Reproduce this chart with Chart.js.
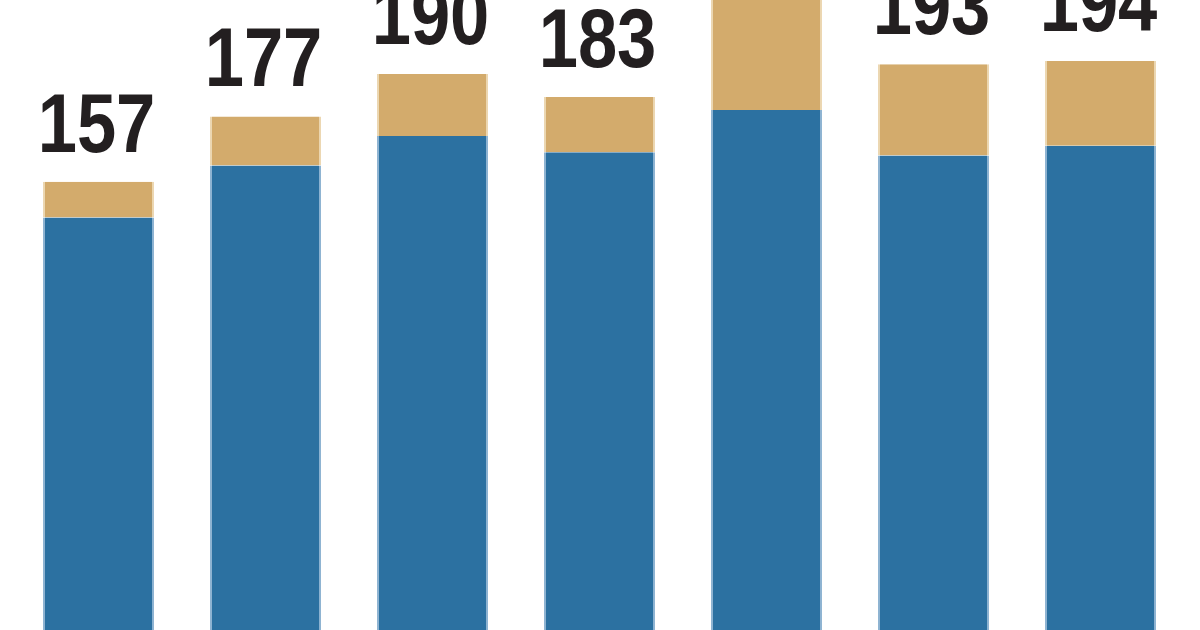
<!DOCTYPE html>
<html>
<head>
<meta charset="utf-8">
<script src="https://cdn.jsdelivr.net/npm/chart.js@4/dist/chart.umd.min.js"></script>
<style>
  html, body { margin: 0; padding: 0; background: #ffffff; }
  #wrap { width: 1200px; height: 630px; position: relative; }
</style>
</head>
<body>
<div id="wrap"><canvas id="c" width="1200" height="630"></canvas></div>
<script>
// Data read from the (cropped) reference picture
const categories = ["1", "2", "3", "4", "5", "6", "7"];
const lowerValues = [146, 162, 171, 166, 179, 165, 168];   // blue segment
const upperValues = [11, 15, 19, 17, 46, 28, 26];          // tan segment
const totalLabels = ["157", "177", "190", "183", "225", "193", "194"];

const BLUE = "#2c71a1";
const TAN = "#d3ab6c";

const totalLabelPlugin = {
  id: "totalLabels",
  afterDatasetsDraw(chart) {
    const ctx = chart.ctx;
    const topMeta = chart.getDatasetMeta(1);
    topMeta.data.forEach((el, i) => {
      ctx.save();
      ctx.fillStyle = "#231f20";
      ctx.font = "bold 84px 'Liberation Sans Narrow', 'Arial Narrow', 'Liberation Sans', sans-serif";
      ctx.textAlign = "center";
      ctx.textBaseline = "alphabetic";
      ctx.translate(el.x - 2, el.y - 30);
      ctx.scale(0.84, 1);
      ctx.fillText(totalLabels[i], 0, 0);
      ctx.restore();
    });
  }
};

new Chart(document.getElementById("c"), {
  type: "bar",
  data: {
    labels: categories,
    datasets: [
      {
        data: lowerValues,
        backgroundColor: BLUE,
        borderColor: "#8fb4d2",
        borderWidth: { left: 2, right: 2, top: 0, bottom: 0 },
        borderSkipped: false,
        barPercentage: 0.665,
        categoryPercentage: 1.0
      },
      {
        data: upperValues,
        backgroundColor: TAN,
        borderColor: "#ecd7b2",
        borderWidth: { left: 2, right: 2, top: 0, bottom: 0 },
        borderSkipped: false,
        barPercentage: 0.665,
        categoryPercentage: 1.0
      }
    ]
  },
  options: {
    responsive: false,
    animation: false,
    devicePixelRatio: 1,
    layout: { padding: { left: 15, right: 16, top: 0, bottom: 0 } },
    plugins: { legend: { display: false }, tooltip: { enabled: false } },
    scales: {
      x: { stacked: true, display: false },
      y: { stacked: true, display: false, min: 19.6, max: 212.7 }
    }
  },
  plugins: [totalLabelPlugin]
});
</script>
</body>
</html>
